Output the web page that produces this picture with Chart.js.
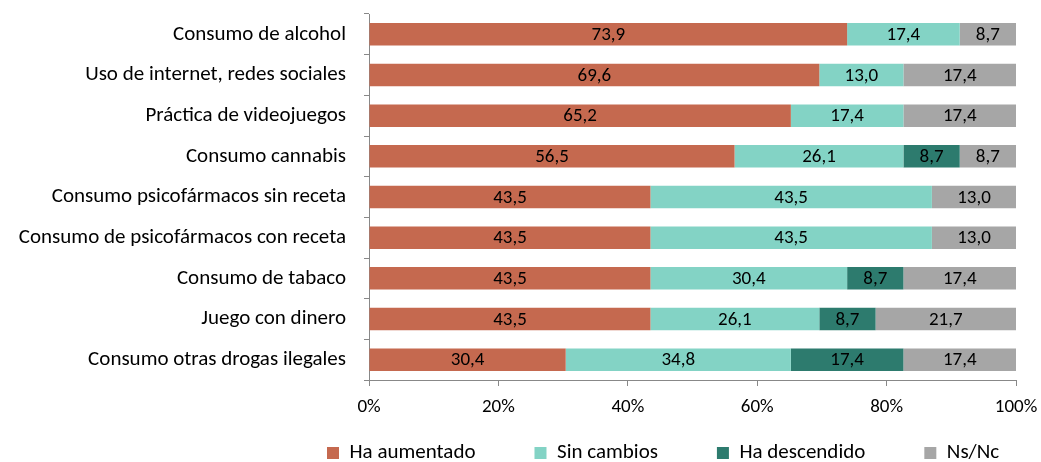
<!DOCTYPE html>
<html>
<head>
<meta charset="utf-8">
<script src="https://cdn.jsdelivr.net/npm/chart.js@4.4.0/dist/chart.umd.min.js"></script>
<style>
html,body{margin:0;padding:0;background:#fff;}
#wrap{width:1041px;height:462px;position:relative;}
</style>
</head>
<body>
<div id="wrap"><canvas id="c" width="1041" height="462"></canvas></div>
<script>
const categories = [
  "Consumo de alcohol",
  "Uso de internet, redes sociales",
  "Práctica de videojuegos",
  "Consumo cannabis",
  "Consumo psicofármacos sin receta",
  "Consumo de psicofármacos con receta",
  "Consumo de tabaco",
  "Juego con dinero",
  "Consumo otras drogas ilegales"
];
const haAumentado = [73.9, 69.6, 65.2, 56.5, 43.5, 43.5, 43.5, 43.5, 30.4];
const sinCambios = [17.4, 13.0, 17.4, 26.1, 43.5, 43.5, 30.4, 26.1, 34.8];
const haDescendido = [0, 0, 0, 8.7, 0, 0, 8.7, 8.7, 17.4];
const nsNc = [8.7, 17.4, 17.4, 8.7, 13.0, 13.0, 17.4, 21.7, 17.4];
const xTicks = [0, 20, 40, 60, 80, 100];

const FONT = "Carlito, Lato, 'Liberation Sans', sans-serif";
const LEG_PAD = 59;
const LEG_FONT = 21;

const labelPlugin = {
  id: 'segLabels',
  afterLayout(chart) {
    const lg = chart.legend;
    if (lg) {
      lg.top = 453 - LEG_FONT / 2 - LEG_PAD;
      lg.left = 327 - LEG_PAD;
      lg.right = 1400;
    }
  },
  afterDatasetsDraw(chart) {
    const ctx = chart.ctx;
    ctx.save();
    ctx.font = "19px " + FONT;
    ctx.fillStyle = "#000";
    ctx.textAlign = "center";
    ctx.textBaseline = "middle";
    chart.data.datasets.forEach((ds, di) => {
      const meta = chart.getDatasetMeta(di);
      meta.data.forEach((el, i) => {
        const v = ds.data[i];
        if (!v) return;
        const cx = (el.x + el.base) / 2;
        ctx.fillText(v.toFixed(1).replace('.', ','), cx, el.y + 1);
      });
    });
    ctx.restore();
  }
};

new Chart(document.getElementById('c'), {
  type: 'bar',
  data: {
    labels: categories,
    datasets: [
      {label: "Ha aumentado", data: haAumentado, backgroundColor: "#C5694F"},
      {label: "Sin cambios", data: sinCambios, backgroundColor: "#83D3C5"},
      {label: "Ha descendido", data: haDescendido, backgroundColor: "#2D7B6E"},
      {label: "Ns/Nc", data: nsNc, backgroundColor: "#A6A6A6"}
    ]
  },
  options: {
    indexAxis: 'y',
    responsive: false,
    animation: false,
    devicePixelRatio: 1,
    layout: {padding: {top: 14, right: 25, left: 0, bottom: 0}},
    datasets: {bar: {categoryPercentage: 1.0, barPercentage: 0.555}},
    plugins: {
      legend: {
        position: 'bottom',
        align: 'start',
        maxHeight: 40,
        labels: {
          font: {family: FONT, size: LEG_FONT},
          color: "#000",
          boxWidth: 12,
          boxHeight: 12,
          padding: LEG_PAD
        }
      },
      tooltip: {enabled: false}
    },
    scales: {
      x: {
        stacked: true,
        min: 0,
        max: 100,
        afterBuildTicks(s) { s.ticks = xTicks.map(v => ({value: v})); },
        afterFit(s) { s.height = 42; s.paddingLeft = 0; s.paddingRight = 0; },
        ticks: {
          callback: v => v + '%',
          font: {family: FONT, size: 19},
          color: "#000",
          padding: 10,
          maxRotation: 0
        },
        grid: {drawOnChartArea: false, tickLength: 6, color: "#888888"},
        border: {color: "#888888"}
      },
      y: {
        stacked: true,
        afterFit(s) { s.width = 369; s.paddingTop = 0; s.paddingBottom = 0; },
        ticks: {
          font: {family: FONT, size: 21},
          color: "#000",
          padding: 18
        },
        grid: {offset: true, drawOnChartArea: false, tickLength: 5, color: "#888888"},
        border: {color: "#888888"}
      }
    }
  },
  plugins: [labelPlugin]
});
</script>
</body>
</html>
